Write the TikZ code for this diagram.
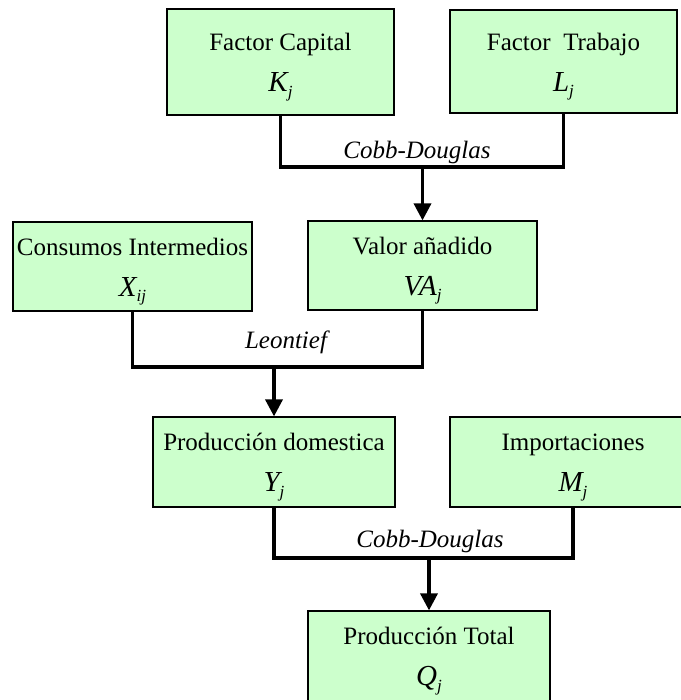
\documentclass[tikz,border=0pt]{standalone}
\usepackage{amsmath}
\usepackage{fontspec}
\setmainfont{Liberation Serif}
\usetikzlibrary{arrows.meta,positioning}

\definecolor{boxgreen}{RGB}{204,255,204}
\newcommand{\varj}[2]{{\fontsize{29}{29}\selectfont\itshape #1}\raisebox{-0.45ex}{\fontsize{17}{17}\selectfont\itshape #2}}
\newcommand{\twoline}[2]{\rule{0pt}{27.5pt}#1\\ #2}

\tikzset{
  block/.style={draw,line width=1.2pt,fill=boxgreen,align=center,inner sep=0pt,font=\fontsize{25}{41}\selectfont},
  link/.style={line width=3.5pt},
  flow/.style={line width=3.5pt,-{Triangle[width=17pt,length=17pt]}},
  lbl/.style={font=\fontsize{25}{30}\selectfont\itshape,inner sep=1pt,anchor=base}
}

\begin{document}
\begin{tikzpicture}[x=1pt,y=-1pt]
  \useasboundingbox (0,0) rectangle (680,700);

  \node[block,minimum width=227pt,minimum height=106pt] (cap) at (280.5,62) {\twoline{Factor Capital}{\varj{K}{j}}};
  \node[block,minimum width=227pt,minimum height=103pt] (trab) at (563.5,61.5) {\twoline{Factor~ Trabajo}{\varj{L}{j}}};
  \node[block,minimum width=239pt,minimum height=89pt] (ci) at (132.5,266.5) {\twoline{Consumos Intermedios}{\varj{X}{ij}}};
  \node[block,minimum width=229pt,minimum height=89pt] (va) at (422.5,265.5) {\twoline{Valor añadido}{\varj{VA}{j}}};
  \node[block,minimum width=242pt,minimum height=90pt] (yd) at (274,462) {\twoline{Producción domestica}{\varj{Y}{j}}};
  \node[block,minimum width=246pt,minimum height=90pt] (imp) at (573,462) {\twoline{Importaciones}{\varj{M}{j}}};
  \node[block,minimum width=242pt,minimum height=90pt] (qt) at (429,656) {\twoline{Producción Total}{\varj{Q}{j}}};

  \coordinate (j1) at (422.5,167);
  \coordinate (j2) at (274,367);
  \coordinate (j3) at (429,558);

  \draw[link] (cap.south) |- (j1) -| (trab.south);
  \draw[flow] (j1) -- (va.north);
  \draw[link] (ci.south) |- (j2) -| (va.south);
  \draw[flow] (j2) -- (yd.north);
  \draw[link] (yd.south) |- (j3) -| (imp.south);
  \draw[flow] (j3) -- (qt.north);

  \node[lbl] (cd1) at (417,159) {Cobb-Douglas};
  \node[lbl] (leo) at (286,348) {Leontief};
  \node[lbl] (cd2) at (430,547) {Cobb-Douglas};
\end{tikzpicture}
\end{document}
